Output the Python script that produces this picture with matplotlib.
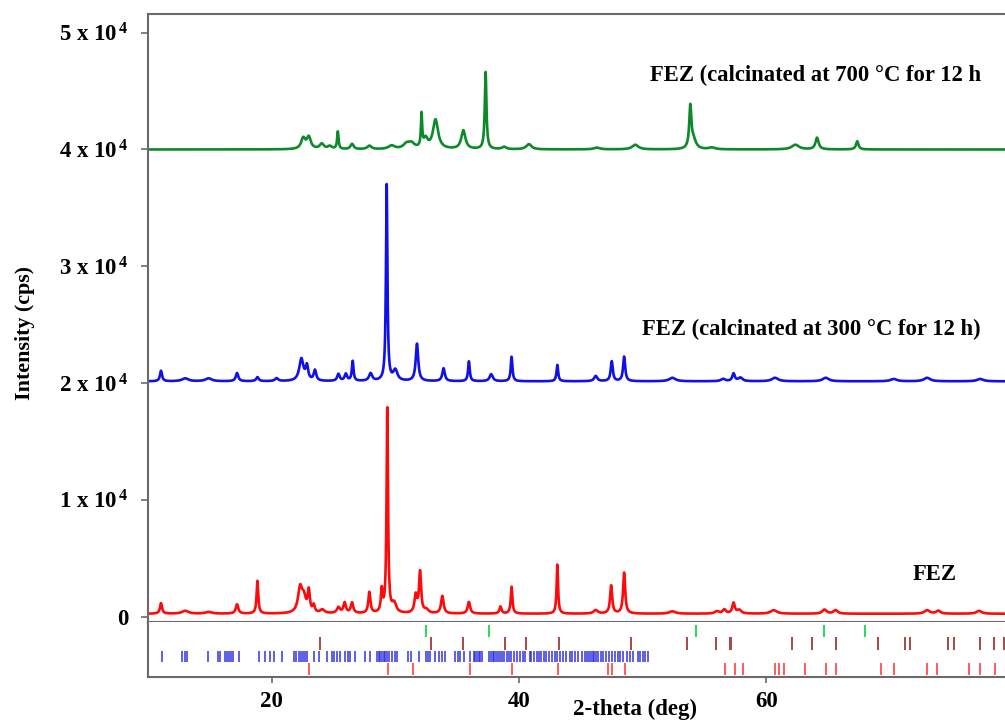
import numpy as np
import matplotlib
matplotlib.use("Agg")
import matplotlib.pyplot as plt

plt.rcParams['font.family'] = ['Liberation Serif', 'DejaVu Serif']
plt.rcParams['font.weight'] = 'bold'
plt.rcParams['mathtext.fontset'] = 'custom'
plt.rcParams['mathtext.rm'] = 'Liberation Serif:bold'
plt.rcParams['mathtext.it'] = 'Liberation Serif:italic:bold'
plt.rcParams['mathtext.bf'] = 'Liberation Serif:bold'

fez_pos = [11.05, 13.0, 14.9, 17.2, 18.85, 22.3, 22.6, 23.0, 23.4, 24.1, 25.4, 25.9,
           26.5, 27.9, 28.9, 29.35, 29.9, 31.65, 32.0, 32.5, 33.8, 35.95, 38.5, 39.4,
           43.1, 46.2, 47.45, 48.5, 52.4, 56.0, 56.6, 57.35, 57.8, 60.6, 64.7, 65.6,
           73.0, 73.9, 77.2]
fez_alt = [900, 250, 150, 800, 2800, 2100, 1200, 1800, 600, 300, 500, 900,
           900, 1800, 1900, 17500, 800, 1500, 3500, 300, 1500, 1000, 600, 2300,
           4200, 300, 2400, 3500, 200, 200, 350, 900, 300, 300, 350, 300,
           300, 250, 250]
fez_larg = [0.1, 0.3, 0.3, 0.12, 0.08, 0.2, 0.2, 0.1, 0.1, 0.2, 0.15, 0.12,
            0.12, 0.1, 0.08, 0.07, 0.2, 0.12, 0.1, 0.2, 0.12, 0.12, 0.1, 0.08,
            0.07, 0.2, 0.1, 0.1, 0.3, 0.2, 0.15, 0.12, 0.2, 0.3, 0.2, 0.2,
            0.25, 0.2, 0.25]
fez_base = 250

f300_pos = [11.05, 13.0, 14.9, 17.2, 18.85, 20.4, 22.4, 22.85, 23.5, 25.4, 26.0, 26.55,
            28.0, 29.3, 30.0, 31.75, 33.9, 35.95, 37.75, 39.4, 43.1, 46.2, 47.5, 48.5,
            52.4, 56.5, 57.35, 57.9, 60.7, 64.8, 70.3, 73.0, 77.3]
f300_alt = [900, 250, 250, 700, 350, 250, 1900, 1200, 900, 600, 600, 1700,
            650, 16800, 900, 3200, 1100, 1700, 600, 2100, 1400, 450, 1700, 2100,
            300, 200, 650, 300, 300, 300, 200, 300, 200]
f300_larg = [0.1, 0.3, 0.3, 0.12, 0.12, 0.15, 0.2, 0.12, 0.12, 0.12, 0.12, 0.08,
             0.15, 0.07, 0.2, 0.12, 0.12, 0.08, 0.15, 0.08, 0.08, 0.15, 0.1, 0.1,
             0.3, 0.2, 0.12, 0.2, 0.3, 0.3, 0.3, 0.3, 0.3]
f300_base = 20150

f700_pos = [22.55, 23.0, 24.05, 24.7, 25.35, 26.5, 27.9, 29.7, 30.9, 31.3, 32.12, 32.45,
            33.25, 35.5, 37.3, 38.8, 40.8, 46.3, 49.4, 53.85, 54.1, 55.6, 62.35, 64.1,
            67.35]
f700_alt = [900, 1000, 450, 250, 1500, 450, 300, 300, 400, 450, 2800, 800,
            2500, 1600, 6600, 200, 450, 150, 400, 3500, 800, 150, 400, 1000,
            700]
f700_larg = [0.2, 0.2, 0.2, 0.2, 0.07, 0.15, 0.2, 0.3, 0.3, 0.3, 0.06, 0.2,
             0.25, 0.2, 0.08, 0.2, 0.25, 0.3, 0.3, 0.1, 0.25, 0.3, 0.35, 0.15,
             0.12]
f700_base = 40000

# posições das fases de referência (marcadores abaixo do zero)
ref_verde = [32.47, 37.6, 54.3, 64.7, 67.96]
ref_marrom = [23.92, 32.9, 35.47, 38.84, 40.59, 43.26, 49.09, 53.59, 55.9, 57.05, 57.15,
              62.08, 63.7, 65.67, 69.04, 71.25, 71.6, 74.7, 75.16, 77.27, 78.4, 79.2]
ref_azul = [11.14, 12.78, 12.98, 13.19, 14.86, 15.67, 15.81, 16.26, 16.42, 16.59, 16.75,
            16.91, 17.35, 18.96, 19.45, 19.85, 20.2, 20.85, 21.82, 22.0, 22.2, 22.36,
            22.52, 22.69, 22.87, 23.44, 23.79, 24.46, 24.87, 25.08, 25.3, 25.52, 25.95,
            26.16, 26.35, 26.76, 27.56, 27.97, 28.51, 28.64, 28.78, 28.91, 29.05, 29.18,
            29.32, 29.5, 29.73, 29.94, 30.13, 31.02, 31.29, 31.88, 32.5, 32.64, 32.82,
            33.23, 33.5, 33.77, 34.04, 34.85, 35.06, 35.25, 35.52, 36.06, 36.33, 36.46,
            36.6, 36.73, 36.87, 37.0, 37.6, 37.75, 37.9, 38.0, 38.15, 38.3, 38.45, 38.6,
            38.75, 39.0, 39.2, 39.35, 39.6, 39.8, 40.1, 40.3, 40.5, 40.85, 41.0, 41.2,
            41.45, 41.6, 41.8, 42.0, 42.2, 42.45, 42.7, 42.9, 43.1, 43.35, 43.55, 43.8,
            44.1, 44.3, 44.55, 44.8, 45.1, 45.3, 45.5, 45.65, 45.8, 45.95, 46.1, 46.25,
            46.4, 46.6, 46.8, 47.0, 47.3, 47.55, 47.8, 48.0, 48.2, 48.45, 48.7, 48.95,
            49.2, 49.6, 49.8, 50.0, 50.2, 50.45]
ref_vermelho = [23.0, 29.37, 31.42, 36.0, 39.46, 43.18, 47.2, 47.5, 48.55, 56.64, 57.44,
                58.12, 60.74, 61.06, 61.4, 63.16, 64.8, 65.67, 69.3, 70.3, 73.0, 73.8,
                76.4, 77.24, 78.5]

ytick_vals = [0, 10000, 20000, 30000, 40000, 50000]
ytick_labels = ['0', r'1 x 10$^{\,4}$', r'2 x 10$^{\,4}$', r'3 x 10$^{\,4}$',
                r'4 x 10$^{\,4}$', r'5 x 10$^{\,4}$']
xtick_vals = [20, 40, 60]

theta = np.arange(10, 80, 0.01)


def padrao(pos, alt, larg, base):
    y = np.full_like(theta, float(base))
    for p, h, w in zip(pos, alt, larg):
        y += h / (1 + ((theta - p) / w) ** 2)
    return y


fig = plt.figure(figsize=(10.05, 7.22), dpi=100)
W, H = 1005, 722
ax = fig.add_axes([148 / W, 1 - 621.7 / H, 1 - 148 / W, (621.7 - 14) / H])
ax2 = fig.add_axes([148 / W, 1 - 676.7 / H, 1 - 148 / W, 55 / H], sharex=ax)

cinza = '#6a6a6a'

ax.plot(theta, padrao(fez_pos, fez_alt, fez_larg, fez_base), color='#ff0a0a', lw=1.9)
ax.plot(theta, padrao(f300_pos, f300_alt, f300_larg, f300_base), color='#1010e8', lw=1.9)
ax.plot(theta, padrao(f700_pos, f700_alt, f700_larg, f700_base), color='#0c8a2a', lw=1.9)

ax.set_xlim(10, 79.3)
ax.set_ylim(-430, 51600)
ax.set_yticks(ytick_vals)
ax.set_yticklabels(ytick_labels, fontsize=16.5, fontweight='bold')
ax.tick_params(axis='y', direction='out', length=5, width=1.2, color=cinza, pad=9)
ax.tick_params(axis='x', bottom=False, labelbottom=False)
ax.spines['right'].set_visible(False)
for s in ['left', 'top', 'bottom']:
    ax.spines[s].set_color(cinza)
    ax.spines[s].set_linewidth(1.5)

txt = dict(fontsize=16.3, fontweight='bold', va='center', ha='left')
ax.text(50.62, 46380, 'FEZ (calcinated at 700 °C for 12 h', **txt)
ax.text(49.98, 24550, 'FEZ (calcinated at 300 °C for 12 h)', **txt)
ax.text(71.82, 3570, 'FEZ', **txt)

# marcadores de referência
ax2.set_ylim(0, 1)
ax2.vlines(ref_verde, 0.72, 0.94, color='#22dd55', lw=1.4)
ax2.vlines(ref_marrom, 0.49, 0.72, color='#a84848', lw=1.4)
ax2.vlines(ref_azul, 0.26, 0.47, color='#2828e0', lw=1.3, alpha=0.8)
ax2.vlines(ref_vermelho, 0.03, 0.25, color='#ff5a5a', lw=1.4)

ax2.set_yticks([])
ax2.set_xticks(xtick_vals)
ax2.set_xticklabels([str(v) for v in xtick_vals], fontsize=16.5, fontweight='bold')
ax2.tick_params(axis='x', direction='out', length=4, width=1.2, color=cinza, pad=6)
ax2.spines['right'].set_visible(False)
ax2.spines['top'].set_visible(False)
for s in ['left', 'bottom']:
    ax2.spines[s].set_color(cinza)
    ax2.spines[s].set_linewidth(1.5)

fig.text(635 / W, 1 - 709 / H, '2-theta (deg)', fontsize=16.5, fontweight='bold',
         ha='center', va='center')
fig.text(25 / W, 1 - 333 / H, 'Intensity (cps)', fontsize=15.8, fontweight='bold',
         ha='center', va='center', rotation=90)

fig.savefig('out.png', dpi=100)
